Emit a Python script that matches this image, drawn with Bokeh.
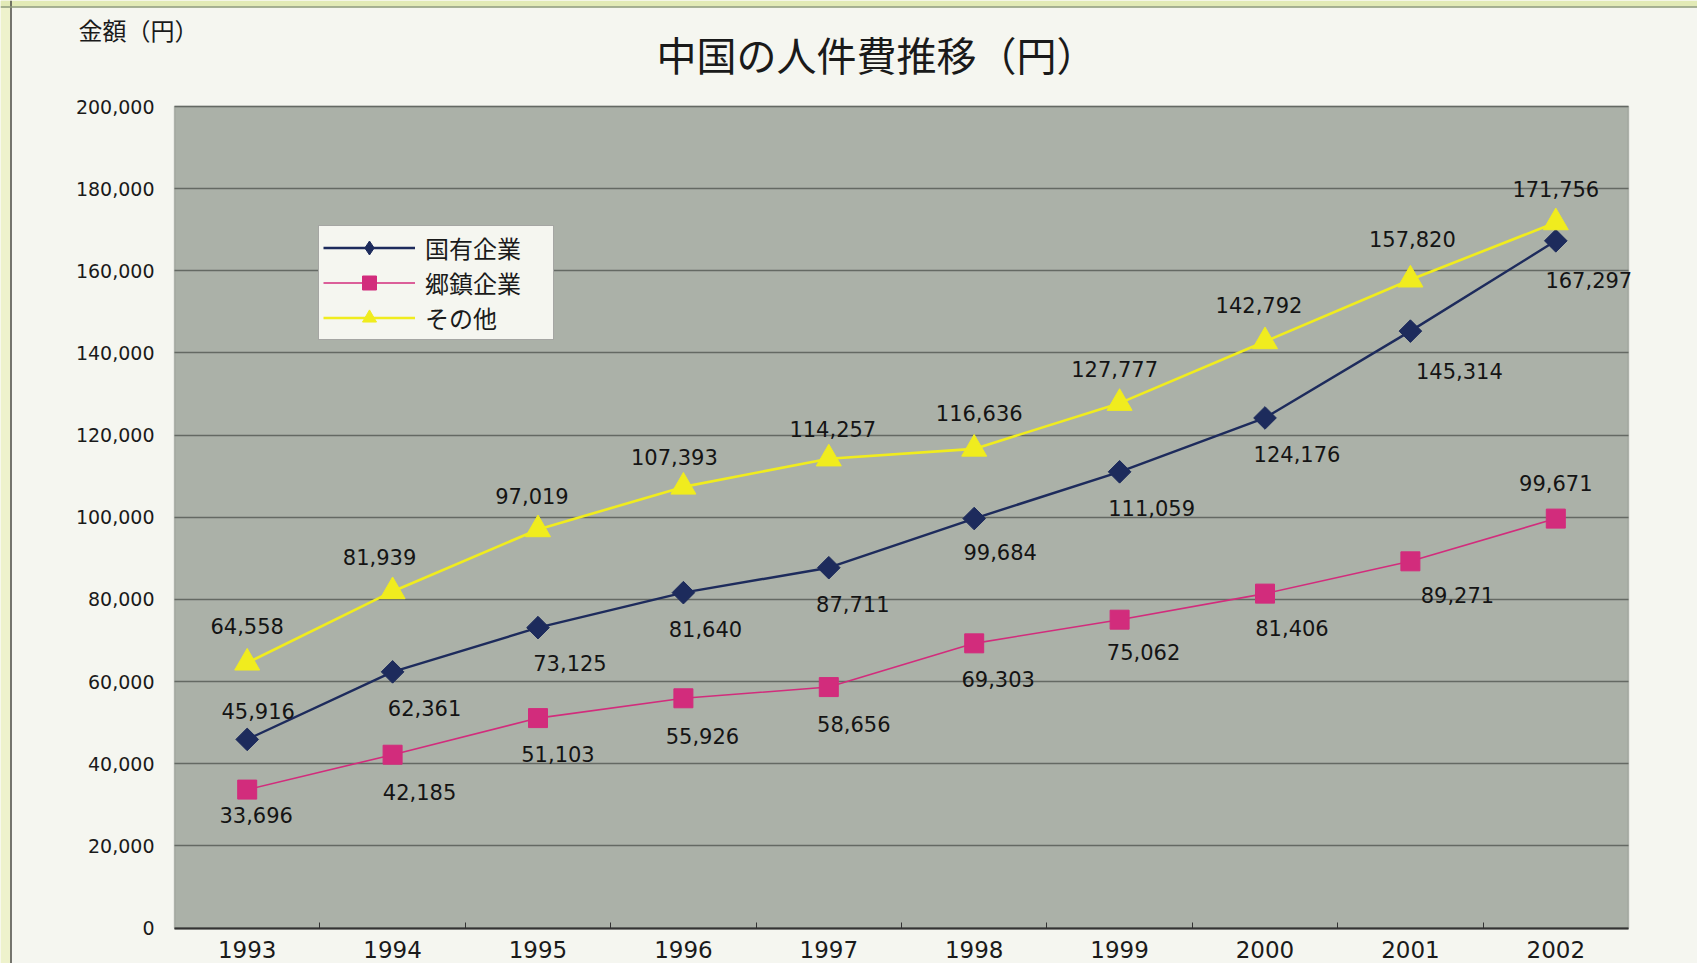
import math
from bokeh.plotting import figure
from bokeh.models import (ColumnDataSource, Range1d, FixedTicker, NumeralTickFormatter,
                          Legend, LegendItem, LabelSet, Label, BoxAnnotation, Span)
from bokeh.core.properties import value
from bokeh.embed import file_html
from bokeh.resources import INLINE

# ---------------- data ----------------
years = ["1993", "1994", "1995", "1996", "1997", "1998", "1999", "2000", "2001", "2002"]
state_owned = [45916, 62361, 73125, 81640, 87711, 99684, 111059, 124176, 145314, 167297]
township = [33696, 42185, 51103, 55926, 58656, 69303, 75062, 81406, 89271, 99671]
others = [64558, 81939, 97019, 107393, 114257, 116636, 127777, 142792, 157820, 171756]
series_names = ["国有企業", "郷鎮企業", "その他"]
y_ticks = [0, 20000, 40000, 60000, 80000, 100000, 120000, 140000, 160000, 180000, 200000]
title_text = "中国の人件費推移（円）"
y_title_text = "金額（円）"

# label offsets in screen pixels (style only)
navy_dx = [11, 32, 32, 22, 24, 26, 32, 32, 49, 33]
navy_dy = [28, -36, -35, -36, -36, -33, -36, -36, -40, -39]
mag_dx = [9, 27, 20, 19, 25, 24, 24, 27, 47, 0]
mag_dy = [-25, -37, -36, -38, -37, -36, -32, -34, -34, 36]
yel_dx = [0, -13, -6, -9, 4, 5, -5, -6, 2, 0]
yel_dy = [37, 34, 33, 30, 30, 36, 34, 36, 41, 34]

# ---------------- layout (pixels) ----------------
W, H = 1697, 963
PLOT_L, PLOT_R, PLOT_T, PLOT_B = 174, 1628, 106, 927.5
Y_MAX = 200000
n = len(years)
px_per_x = (PLOT_R - PLOT_L) / n
y_per_px = Y_MAX / (PLOT_B - PLOT_T)


def px_to_x(px):
    return -0.5 + (px - PLOT_L) / px_per_x


def py_to_y(py):
    return (PLOT_B - py) * y_per_px


FONT = "DejaVu Sans"
JP = "Noto Sans CJK JP"
NAVY = "#1d2b5c"
MAG = "#d22c7c"
YEL = "#f0ec1e"
PANEL = "#f5f6f0"
PLOT_BG = "#abb1a8"
GRID = "#646963"

x = list(range(n))

p = figure(width=W, height=H, output_backend="svg", toolbar_location=None,
           x_range=Range1d(px_to_x(0), px_to_x(W)), y_range=Range1d(py_to_y(H), py_to_y(0)),
           min_border=0, min_border_left=0, min_border_right=0, min_border_top=0, min_border_bottom=0)
p.title = None
p.background_fill_color = PANEL
p.border_fill_color = PANEL
p.outline_line_color = None

# outer page decoration
p.add_layout(BoxAnnotation(left=px_to_x(0), right=px_to_x(10), fill_color="#eef2cc", fill_alpha=1,
                           line_color=None, level="image"))
p.add_layout(BoxAnnotation(bottom=py_to_y(6), fill_color="#e2eab6", fill_alpha=1,
                           line_color=None, level="image"))
p.add_layout(Span(location=px_to_x(10.5), dimension="height", line_color="#4a4a44", line_width=1.5,
                  level="image"))
p.add_layout(Span(location=py_to_y(6.5), dimension="width", line_color="#8d9a78", line_width=1.5,
                  level="image"))

# plot area
p.add_layout(BoxAnnotation(left=-0.5, right=n - 0.5, bottom=0, top=Y_MAX, fill_color=PLOT_BG,
                           fill_alpha=1, line_color="#5e635e", line_width=1.5, level="image"))

# grid
p.xgrid.visible = False
p.ygrid.ticker = FixedTicker(ticks=y_ticks)
p.ygrid.grid_line_color = GRID
p.ygrid.grid_line_width = 1.5
grid_ok = False
try:
    p.ygrid.cross_bounds = (-0.5, n - 0.5)
    grid_ok = True
except Exception:
    grid_ok = False
if not grid_ok:
    p.ygrid.visible = False
    gsrc = ColumnDataSource(dict(y=y_ticks))
    p.segment(x0=-0.5, x1=n - 0.5, y0="y", y1="y", source=gsrc, line_color=GRID,
              line_width=1.5, level="underlay")

# x axis
xa = p.xaxis[0]
xa.fixed_location = 0
xa.bounds = (-0.5, n - 0.5)
xa.ticker = FixedTicker(ticks=x, minor_ticks=[i + 0.5 for i in x[:-1]])
xa.major_label_overrides = {i: yv for i, yv in enumerate(years)}
xa.major_tick_line_color = None
xa.minor_tick_in = 6
xa.minor_tick_out = 0
xa.minor_tick_line_color = "#333333"
xa.axis_line_color = "#333333"
xa.axis_line_width = 2
xa.major_label_text_font = FONT
xa.major_label_text_font_size = "23px"
xa.major_label_text_color = "#1a1a1a"
xa.major_label_standoff = 7

# y axis
ya = p.yaxis[0]
ya.fixed_location = -0.5
ya.bounds = (0, Y_MAX)
ya.ticker = FixedTicker(ticks=y_ticks)
ya.formatter = NumeralTickFormatter(format="0,0")
ya.major_tick_line_color = None
ya.minor_tick_line_color = None
ya.axis_line_color = None
ya.major_label_text_font = FONT
ya.major_label_text_font_size = "19px"
ya.major_label_text_color = "#1a1a1a"
ya.major_label_standoff = 14

src = ColumnDataSource(dict(x=x, navy=state_owned, mag=township, yel=others,
                            navy_t=[f"{v:,}" for v in state_owned],
                            mag_t=[f"{v:,}" for v in township],
                            yel_t=[f"{v:,}" for v in others],
                            navy_dx=navy_dx, navy_dy=navy_dy,
                            mag_dx=mag_dx, mag_dy=mag_dy,
                            yel_dx=yel_dx, yel_dy=yel_dy))

l1 = p.line("x", "navy", source=src, line_color=NAVY, line_width=2.4)
m1 = p.scatter("x", "navy", source=src, marker="square", size=16, angle=math.pi / 4,
               fill_color=NAVY, line_color=NAVY)
l2 = p.line("x", "mag", source=src, line_color=MAG, line_width=1.6)
m2 = p.scatter("x", "mag", source=src, marker="square", size=19, fill_color=MAG, line_color=MAG)
l3 = p.line("x", "yel", source=src, line_color=YEL, line_width=2.6)
m3 = p.scatter("x", "yel", source=src, marker="triangle", size=25, fill_color=YEL, line_color=YEL)
# legend key for the diamond (renderer hidden in the plot)
m1_key = p.scatter("x", "navy", source=src, marker="diamond", size=20,
                   fill_color=NAVY, line_color=NAVY, visible=False)

for col, dx, dy in [("navy", "navy_dx", "navy_dy"), ("mag", "mag_dx", "mag_dy"), ("yel", "yel_dx", "yel_dy")]:
    ls = LabelSet(x="x", y=col, text=col + "_t", source=src, x_offset=dx, y_offset=dy,
                  text_align="center", text_baseline="middle",
                  text_font=value(FONT), text_font_size="21px", text_color="#141414")
    p.add_layout(ls)

legend = Legend(items=[LegendItem(label=series_names[0], renderers=[l1, m1_key]),
                       LegendItem(label=series_names[1], renderers=[l2, m2]),
                       LegendItem(label=series_names[2], renderers=[l3, m3])],
                location=(318, H - 340), glyph_width=92, glyph_height=35, label_width=124,
                label_height=30,
                label_text_font=JP, label_text_font_size="24px", label_text_color="#1a1a1a",
                background_fill_color=PANEL, background_fill_alpha=1,
                border_line_color="#555555", border_line_width=1.5,
                inactive_fill_alpha=0.0,
                padding=4, spacing=0, margin=0, label_standoff=10)
p.add_layout(legend, "center")


def make_label(text, px, py, size, align):
    lab = Label(x=px_to_x(px), y=py_to_y(py), text=text, text_font_size=size,
                text_align=align, text_baseline="middle", text_color="#1a1a1a")
    try:
        lab.text_font = value(JP)
    except Exception:
        lab.text_font = JP
    return lab


p.add_layout(make_label(title_text, 876, 53, "40px", "center"))
p.add_layout(make_label(y_title_text, 78, 29, "24px", "left"))

open("out.html", "w").write(file_html(p, INLINE))
